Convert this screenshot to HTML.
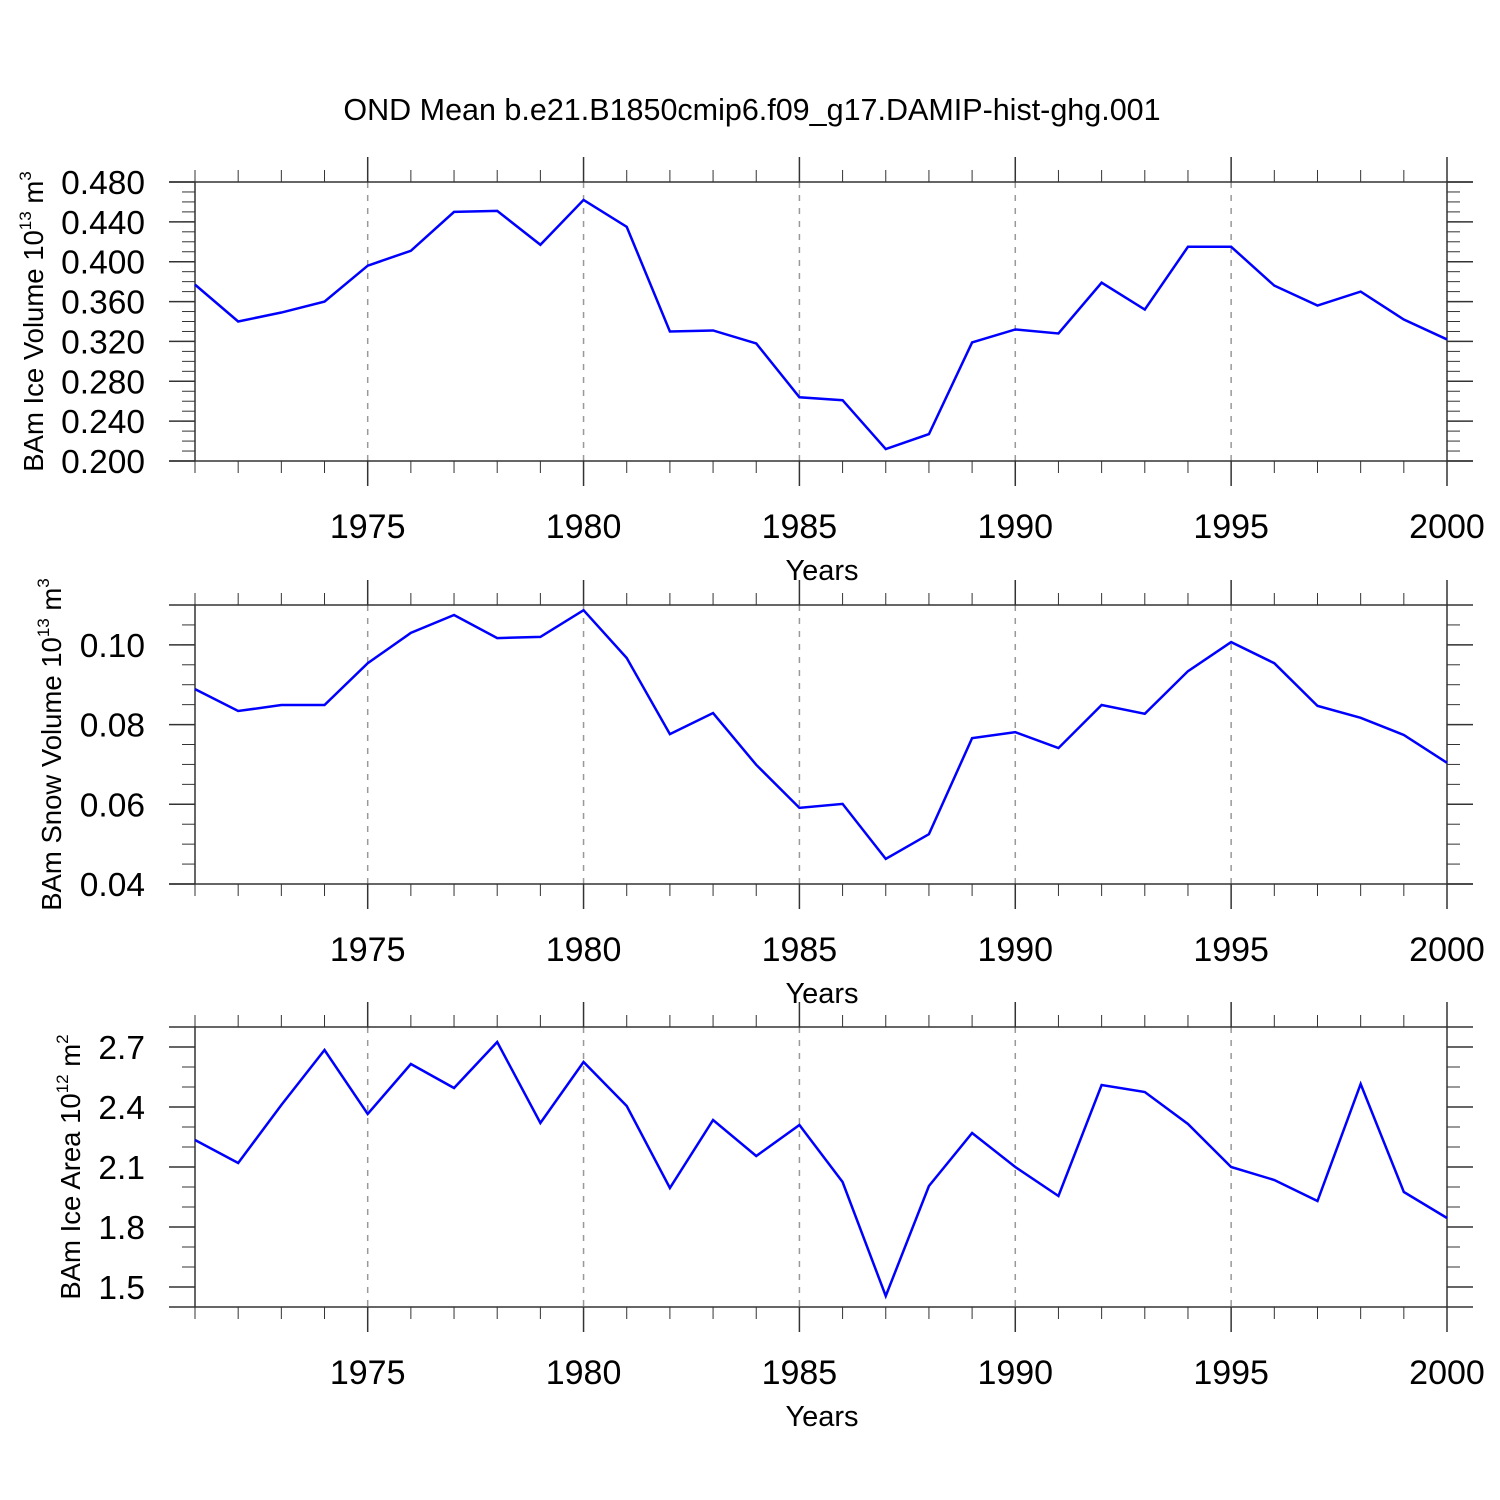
<!DOCTYPE html>
<html><head><meta charset="utf-8"><style>
html,body{margin:0;padding:0;background:#fff;width:1500px;height:1500px;overflow:hidden}
svg text{font-family:"Liberation Sans",sans-serif;fill:#000}
</style></head><body>
<svg id="chart" xmlns="http://www.w3.org/2000/svg" width="1500" height="1500" viewBox="0 0 1500 1500">
<text x="752" y="120" font-size="30.5" text-anchor="middle">OND Mean b.e21.B1850cmip6.f09_g17.DAMIP-hist-ghg.001</text>
</svg>
<script>
const years = [1971,1972,1973,1974,1975,1976,1977,1978,1979,1980,1981,1982,1983,1984,1985,1986,1987,1988,1989,1990,1991,1992,1993,1994,1995,1996,1997,1998,1999,2000];
const iceVolume = [0.377,0.340,0.349,0.360,0.396,0.411,0.450,0.451,0.417,0.462,0.435,0.330,0.331,0.318,0.264,0.261,0.212,0.227,0.319,0.332,0.328,0.379,0.352,0.415,0.415,0.376,0.356,0.370,0.342,0.322];
const snowVolume = [0.0889,0.0834,0.0849,0.0849,0.0954,0.1030,0.1075,0.1017,0.1020,0.1087,0.0967,0.0776,0.0829,0.0699,0.0591,0.0601,0.0463,0.0525,0.0766,0.0781,0.0741,0.0849,0.0827,0.0934,0.1007,0.0954,0.0847,0.0817,0.0774,0.0704];
const iceArea = [2.235,2.12,2.41,2.685,2.365,2.615,2.495,2.725,2.32,2.625,2.405,1.995,2.335,2.155,2.31,2.025,1.455,2.005,2.27,2.10,1.955,2.51,2.475,2.315,2.10,2.035,1.93,2.515,1.975,1.845];
const xTickLabels = [1975,1980,1985,1990,1995,2000];
const iceVolTicks = [0.200,0.240,0.280,0.320,0.360,0.400,0.440,0.480];
const snowTicks = [0.04,0.06,0.08,0.10];
const areaTicks = [1.5,1.8,2.1,2.4,2.7];

const svg = document.getElementById('chart');
const NS = 'http://www.w3.org/2000/svg';
function mk(tag, attrs, parent){const e=document.createElementNS(NS,tag);for(const k in attrs)e.setAttribute(k,attrs[k]);(parent||svg).appendChild(e);return e;}
const X0=195,X1=1447,YR0=1971,YR1=2000;
const xs = y => X0 + (y-YR0)/(YR1-YR0)*(X1-X0);

function panel(id, top, bot, vmin, vmax, vals, ticks, minorStep, decimals, labelX, labelParts){
  const g = mk('g',{});
  
  
  const ys = v => bot - (v-vmin)/(vmax-vmin)*(bot-top);
  for (const t of xTickLabels){ if(t===YR1) continue;
    const l = mk('line',{x1:xs(t),x2:xs(t),y1:top,y2:bot,stroke:'#999','stroke-width':1.5,'stroke-dasharray':'6,7'},g);
    
    
  }
  const n = Math.round((vmax-vmin)/minorStep);
  for (let i=0;i<=n;i++){ const v=vmin+i*minorStep; const y=ys(v);
    mk('line',{x1:182,x2:X0,y1:y,y2:y,stroke:'#333','stroke-width':1},g);
    mk('line',{x1:X1,x2:X1+13,y1:y,y2:y,stroke:'#333','stroke-width':1},g);
  }
  const edge=[vmin,vmax];
  for (const v of ticks.concat(edge)){ const y=ys(v);
    mk('line',{x1:169,x2:X0,y1:y,y2:y,stroke:'#333','stroke-width':1.5},g);
    mk('line',{x1:X1,x2:X1+26,y1:y,y2:y,stroke:'#333','stroke-width':1.5},g);
  }
  for (const v of ticks){
    const t = mk('text',{x:145,y:ys(v)+12,'font-size':33.5,'text-anchor':'end'},g);
    t.textContent = v.toFixed(decimals);
    
    
  }
  for (let yr=YR0; yr<=YR1; yr++){ const x=xs(yr); const major = yr%5===0;
    const L = major?25:12;
    mk('line',{x1:x,x2:x,y1:top-L,y2:top,stroke:'#333','stroke-width':major?1.5:1},g);
    mk('line',{x1:x,x2:x,y1:bot,y2:bot+L,stroke:'#333','stroke-width':major?1.5:1},g);
  }
  for (const yr of xTickLabels){
    const t = mk('text',{x:xs(yr),y:bot+77,'font-size':34,'text-anchor':'middle'},g);
    t.textContent = yr;
    
    
  }
  const xt = mk('text',{x:822,y:bot+119,'font-size':29,'text-anchor':'middle'},g);
  xt.textContent='Years';
  
  
  const fr = mk('rect',{x:X0,y:top,width:X1-X0,height:bot-top,fill:'none',stroke:'#333','stroke-width':1.5},g);
  
  
  const pts = vals.map((v,i)=>xs(years[i])+','+ys(v)).join(' ');
  const pl = mk('polyline',{points:pts,fill:'none',stroke:'#0000ff','stroke-width':2.5,'stroke-linejoin':'miter'},g);
  
  
  const cy=(top+bot)/2;
  const yl = mk('text',{x:0,y:0,'font-size':27.5,'text-anchor':'middle',transform:`translate(${labelX},${cy}) rotate(-90)`},g);
  
  
  yl.innerHTML = `${labelParts[0]} 10<tspan dy="-12" font-size="17">${labelParts[1]}</tspan><tspan dy="12"> m</tspan><tspan dy="-12" font-size="17">${labelParts[2]}</tspan>`;
}
panel('ice-volume',182,461,0.20,0.48,iceVolume,iceVolTicks,0.01,3,43,['BAm Ice Volume','13','3']);
panel('snow-volume',605,884,0.04,0.11,snowVolume,snowTicks,0.005,2,61,['BAm Snow Volume','13','3']);
panel('ice-area',1027,1307,1.4,2.8,iceArea,areaTicks,0.1,1,80,['BAm Ice Area','12','2']);
</script>
</body></html>
